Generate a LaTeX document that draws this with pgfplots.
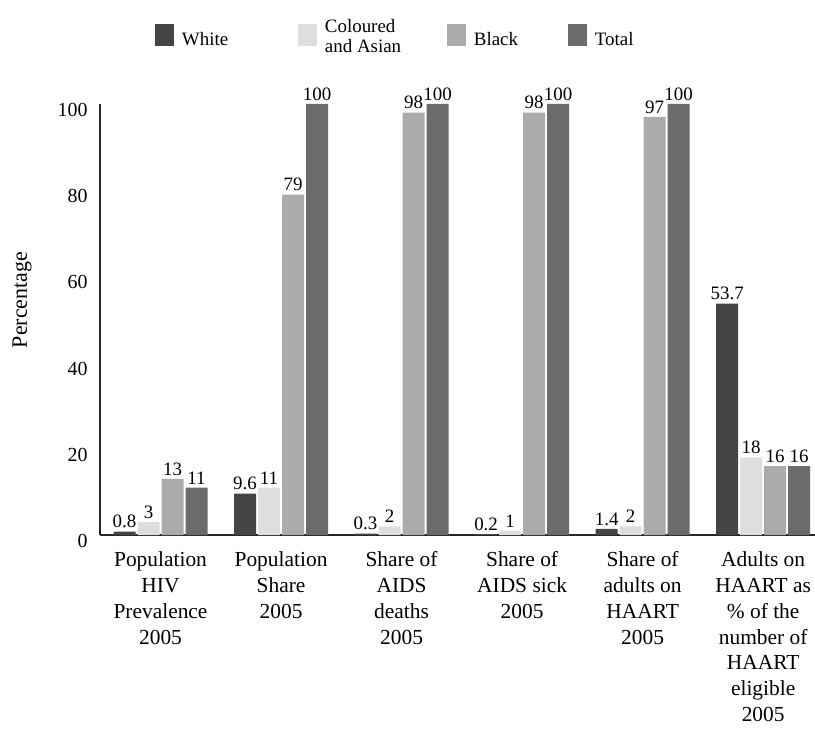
\documentclass[border=0pt]{standalone}
\usepackage{fontspec}
\setmainfont{Liberation Serif}
\usepackage{pgfplots}
\usepackage{pgfplotstable}
\pgfplotsset{compat=1.18}

\definecolor{cWhite}{HTML}{444444}
\definecolor{cColoured}{HTML}{DEDEDE}
\definecolor{cBlack}{HTML}{ABABAB}
\definecolor{cTotal}{HTML}{6B6B6B}

% x = category index, one column per population group
\pgfplotstableread{
x white coloured black total
0 0.8 3 13 11
1 9.6 11 79 100
2 0.3 2 98 100
3 0.2 1 98 100
4 1.4 2 97 100
5 53.7 18 16 16
}\datatable

\begin{document}
\begin{tikzpicture}
\begin{axis}[
    scale only axis, width=715bp, height=431bp,
    ybar=2bp, bar width=22bp,
    xmin=-0.502, xmax=5.43, ymin=0, ymax=100,
    clip=false,
    axis lines=left,
    axis line style={-, line width=1.3bp, color=black!85},
    major tick length=0pt,
    /pgf/number format/assume math mode=true,
    xtick={0,...,5},
    xticklabels={
        {Population\\HIV\\Prevalence\\2005},
        {Population\\Share\\2005},
        {Share of\\AIDS\\deaths\\2005},
        {Share of\\AIDS sick\\2005},
        {Share of\\adults on\\HAART\\2005},
        {Adults on\\HAART as\\\% of the\\number of\\HAART\\eligible\\2005}},
    xticklabel style={align=center, font=\fontsize{21.5}{26}\selectfont, yshift=-13bp},
    ytick={0,20,...,100},
    yticklabel style={font=\fontsize{20}{24}\selectfont, yshift=-6bp, xshift=-9bp},
    ylabel={Percentage},
    ylabel style={at={(rel axis cs:-0.109,0.545)}, anchor=center,
        font=\fontsize{22}{24}\selectfont},
    nodes near coords,
    every node near coord/.append style={font=\fontsize{19}{22}\selectfont, color=black},
    legend columns=4,
    legend style={draw=none, at={(rel axis cs:0.0769,1.1485)}, anchor=west,
        inner sep=0pt, outer sep=0pt, font=\fontsize{19}{20}\selectfont,
        /tikz/every odd column/.append style={column sep=6bp}},
    legend cell align=left,
    legend image code/.code={\fill[#1] (0bp,-6bp) rectangle (19bp,16bp);},
]
\addplot[fill=cWhite, draw=none] table[x=x, y=white] {\datatable};
\addlegendentry{\makebox[114bp][l]{White}}
\addplot[fill=cColoured, draw=none] table[x=x, y=coloured] {\datatable};
\addlegendentry{\makebox[120bp][l]{\raisebox{0bp}[27bp][6bp]{\begin{tabular}[b]{@{}l@{}}Coloured\\and Asian\end{tabular}}}}
\addplot[fill=cBlack, draw=none] table[x=x, y=black] {\datatable};
\addlegendentry{\makebox[92bp][l]{Black}}
\addplot[fill=cTotal, draw=none] table[x=x, y=total] {\datatable};
\addlegendentry{Total}
\end{axis}
\pgfresetboundingbox
\path ([xshift=-100bp,yshift=-197bp]current axis.south west) rectangle ([yshift=104bp]current axis.north east);
\end{tikzpicture}
\end{document}
